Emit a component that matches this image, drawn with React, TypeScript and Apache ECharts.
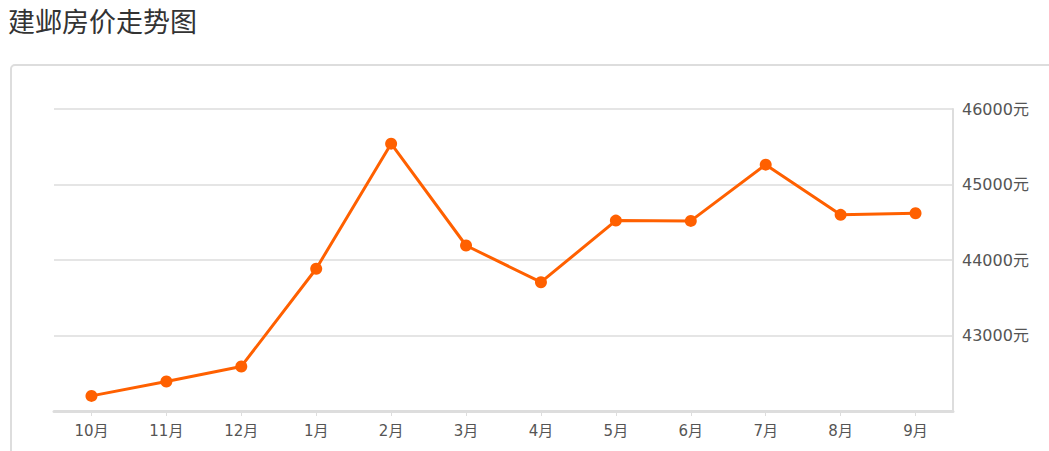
import React, { useEffect, useRef } from "react";
import * as echarts from "echarts";

const TITLE = "建邺房价走势图";
const categories = ["10月", "11月", "12月", "1月", "2月", "3月", "4月", "5月", "6月", "7月", "8月", "9月"];
const prices = [42200, 42390, 42590, 43884, 45541, 44192, 43706, 44522, 44518, 45263, 44598, 44619];
const yMin = 42000;
const yMax = 46000;
const yStep = 1000;
const UNIT = "元";

const FONT = '"Noto Sans CJK SC", "Noto Sans", sans-serif';
const LABEL_FONT = '"DejaVu Sans", "Noto Sans CJK SC", sans-serif';

export default function App() {
  const ref = useRef<HTMLDivElement>(null);
  useEffect(() => {
    if (!ref.current) return;
    const chart = echarts.init(ref.current, undefined, { renderer: "svg" });
    chart.setOption({
      animation: false,
      backgroundColor: "#ffffff",
      textStyle: { fontFamily: FONT },
      graphic: [
        {
          type: "text",
          left: 8,
          top: 7,
          style: { text: TITLE, fill: "#333333", font: `27px ${FONT}` },
        },
        {
          type: "rect",
          shape: { x: 11, y: 65, width: 1100, height: 500, r: 4 },
          style: { fill: "none", stroke: "#dddddd", lineWidth: 2 },
          z: -1,
        },
      ],
      grid: { left: 54, right: 96, top: 109, bottom: 40, containLabel: false },
      xAxis: {
        type: "category",
        data: categories,
        boundaryGap: true,
        axisLine: { show: true, lineStyle: { color: "#dddddd", width: 3 } },
        axisTick: { show: true, alignWithLabel: true, length: 5, lineStyle: { color: "#dddddd" } },
        axisLabel: { color: "#555555", fontSize: 15, margin: 12, fontFamily: LABEL_FONT },
        splitLine: { show: false },
      },
      yAxis: {
        type: "value",
        position: "right",
        min: yMin,
        max: yMax,
        interval: yStep,
        axisLine: { show: true, lineStyle: { color: "#dddddd", width: 2 } },
        axisTick: { show: false },
        axisLabel: {
          color: "#555555",
          fontSize: 16,
          margin: 9,
          showMinLabel: false,
          formatter: (v: number) => `${v}${UNIT}`,
          fontFamily: LABEL_FONT,
        },
        splitLine: { show: true, lineStyle: { color: "#dddddd", width: 1.5 } },
      },
      series: [
        {
          type: "line",
          data: prices,
          symbol: "circle",
          symbolSize: 12,
          itemStyle: { color: "#ff6000" },
          lineStyle: { color: "#ff6000", width: 3 },
        },
      ],
    });
    return () => chart.dispose();
  }, []);
  return (
    <div style={{ position: "fixed", left: 0, top: 0, width: 1049, height: 451, overflow: "hidden", background: "#fff" }}>
      <div ref={ref} style={{ width: 1049, height: 451 }} />
    </div>
  );
}
